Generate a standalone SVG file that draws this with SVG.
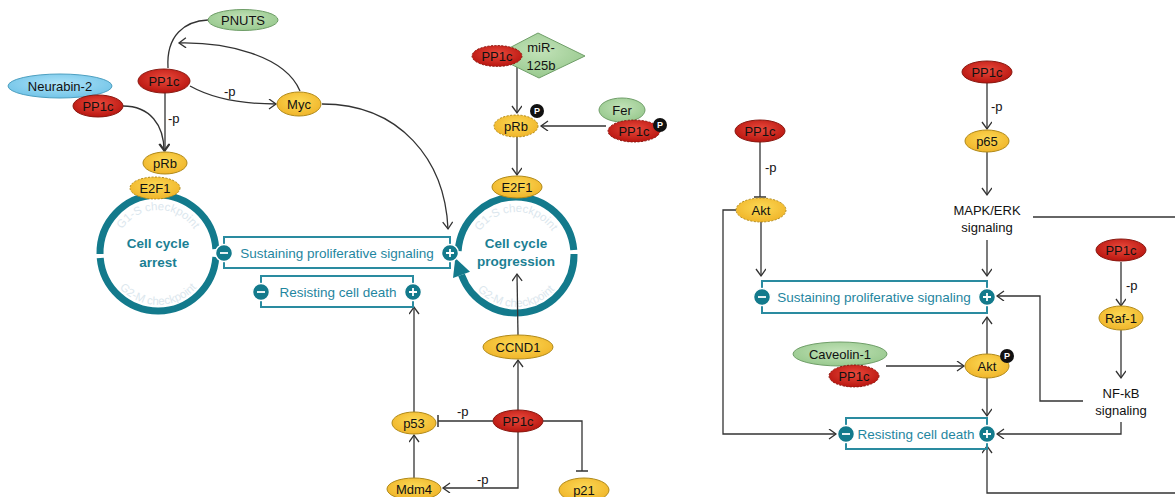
<svg xmlns="http://www.w3.org/2000/svg" width="1175" height="497" viewBox="0 0 1175 497">
<style>
text{font-family:"Liberation Sans",Arial,sans-serif;}
.lbl{font-size:13px;fill:#111;text-anchor:middle;}
.el{font-size:13px;fill:#111;}
.red{fill:url(#gRed);stroke:#8a1a12;stroke-width:1;}
.yel{fill:url(#gYel);stroke:#b08a1a;stroke-width:1;}
.grn{fill:url(#gGrn);stroke:#6f9e68;stroke-width:1;}
.blu{fill:url(#gBlu);stroke:#4c9fc0;stroke-width:1;}
.dash{stroke-dasharray:2 1.5;}
.ring{fill:none;stroke:#137a8c;stroke-width:7;}
.box{fill:none;stroke:#2a8ba0;stroke-width:2;}
.boxt{font-size:13.5px;fill:#1f86a0;text-anchor:middle;}
.badge{fill:#137a8c;stroke:#fff;stroke-width:1.5;}
.sign{stroke:#fff;stroke-width:1.8;fill:none;}
.cc{font-size:13.5px;font-weight:bold;fill:#1b7f94;text-anchor:middle;}
.chk{font-size:11.5px;fill:#dce7ee;}
.ln{fill:none;stroke:#333;stroke-width:1.3;}
.arr{marker-end:url(#arrow);}
.tee{marker-end:url(#tbar);}
.pb{fill:#111;}
.pt{font-size:9px;font-weight:bold;fill:#fff;text-anchor:middle;}
</style>
<defs>
<radialGradient id="gRed" cx="50%" cy="40%" r="60%"><stop offset="0" stop-color="#ea4a3c"/><stop offset="1" stop-color="#b8150f"/></radialGradient>
<radialGradient id="gYel" cx="50%" cy="40%" r="60%"><stop offset="0" stop-color="#fcd955"/><stop offset="1" stop-color="#f0b52a"/></radialGradient>
<radialGradient id="gGrn" cx="50%" cy="40%" r="60%"><stop offset="0" stop-color="#c2e2b8"/><stop offset="1" stop-color="#98c98e"/></radialGradient>
<radialGradient id="gBlu" cx="50%" cy="40%" r="60%"><stop offset="0" stop-color="#aee3f8"/><stop offset="1" stop-color="#72c4e8"/></radialGradient>
<marker id="arrow" markerUnits="userSpaceOnUse" markerWidth="12" markerHeight="12" refX="8" refY="5" orient="auto"><path d="M1,0 L8,5 L1,10" fill="none" stroke="#333" stroke-width="1.3"/></marker>
<marker id="tbar" markerUnits="userSpaceOnUse" markerWidth="4" markerHeight="14" refX="1" refY="6" orient="auto"><path d="M1,0 L1,12" fill="none" stroke="#333" stroke-width="1.5"/></marker>
<path id="arcL1" d="M115,253 A43,43 0 0 1 201,253"/>
<path id="arcL2" d="M106,253 A52,52 0 0 0 210,253"/>
<path id="arcR1" d="M473,255 A43,43 0 0 1 559,255"/>
<path id="arcR2" d="M464,255 A52,52 0 0 0 568,255"/>
</defs>
<rect width="1175" height="497" fill="#fff"/>

<g id="cycle-arrest">
<path class="ring" d="M100.01,254.01 A58,58 0 0 1 215.86,248.95"/>
<path class="ring" d="M215.86,257.05 A58,58 0 0 1 100.22,258.06"/>
<text class="chk"><textPath href="#arcL1" startOffset="50%" text-anchor="middle">G1-S checkpoint</textPath></text>
<text class="chk"><textPath href="#arcL2" startOffset="50%" text-anchor="middle">G2-M checkpoint</textPath></text>
<text class="cc" x="158" y="248">Cell cycle</text>
<text class="cc" x="158" y="267">arrest</text>
</g>
<g id="cycle-progression">
<path class="ring" d="M458.14,250.95 A58,58 0 0 1 573.78,249.94"/>
<path class="ring" d="M573.99,253.99 A58,58 0 0 1 461.5,274.84"/>
<polygon points="455.3,257.9 453.0,277.9 470.0,271.7" fill="#137a8c"/>
<text class="chk"><textPath href="#arcR1" startOffset="50%" text-anchor="middle">G1-S checkpoint</textPath></text>
<text class="chk"><textPath href="#arcR2" startOffset="50%" text-anchor="middle">G2-M checkpoint</textPath></text>
<text class="cc" x="516" y="248">Cell cycle</text>
<text class="cc" x="516" y="266">progression</text>
</g>

<g id="connectors">
<path class="ln" d="M168,68 C166,35 185,21 208,20"/>
<path class="ln arr" d="M300,91 C285,55 225,42 179,43"/>
<path class="ln arr" d="M190,86 C215,100 248,104 276,104"/>
<path class="ln arr" d="M165,92 L165,151"/>
<path class="ln arr" d="M123,106 C150,106 164,125 164,151"/>
<path class="ln arr" d="M322,104 C400,104 445,160 448,229"/>
<path class="ln arr" d="M517,66 L517,113"/>
<path class="ln arr" d="M606,126 L541,126"/>
<path class="ln arr" d="M517,137 L517,175"/>
<path class="ln arr" d="M518,335 L517,274"/>
<path class="ln arr" d="M518,410 L518,360"/>
<path class="ln tee" d="M493,421 L438,421"/>
<path class="ln arr" d="M414,412 L414,307"/>
<path class="ln arr" d="M414,478 L414,435"/>
<path class="ln arr" d="M518,432 L518,488 L443,488"/>
<path class="ln tee" d="M543,421 L582,421 L582,471"/>
<path class="ln arr" d="M987,83 L987,129"/>
<path class="ln arr" d="M987,152 L987,195"/>
<path class="ln" d="M1033,217 L1175,217"/>
<path class="ln arr" d="M987,240 L987,276"/>
<path class="ln tee" d="M760,142 L760,197"/>
<path class="ln arr" d="M761,222 L761,276"/>
<path class="ln arr" d="M736,210 L723,210 L723,434 L836,434"/>
<path class="ln arr" d="M1121,262 L1121,306"/>
<path class="ln arr" d="M1121,330 L1121,378"/>
<path class="ln arr" d="M1083,401 L1040,401 L1040,296 L997,296"/>
<path class="ln arr" d="M1121,422 L1121,434 L997,434"/>
<path class="ln arr" d="M1175,493 L987,493 L987,446"/>
<path class="ln arr" d="M886,366 L964,366"/>
<path class="ln arr" d="M987,354 L987,317"/>
<path class="ln arr" d="M987,378 L987,416"/>
<text class="el" x="224" y="96">-p</text>
<text class="el" x="168" y="123">-p</text>
<text class="el" x="457" y="416">-p</text>
<text class="el" x="477" y="484">-p</text>
<text class="el" x="991" y="111">-p</text>
<text class="el" x="765" y="172">-p</text>
<text class="el" x="1126" y="290">-p</text>
</g>

<g id="box-sust-left">
<rect class="box" x="224" y="237" width="226" height="31"/>
<text class="boxt" x="337" y="258">Sustaining proliferative signaling</text>
<circle class="badge" cx="224" cy="253" r="8.5"/><path class="sign" d="M220,253 H228"/>
<circle class="badge" cx="450" cy="253" r="8.5"/><path class="sign" d="M446,253 H454 M450,249 V257"/>
</g>
<g id="box-resist-left">
<rect class="box" x="261" y="276" width="152" height="31"/>
<text class="boxt" x="338" y="297">Resisting cell death</text>
<circle class="badge" cx="261" cy="292" r="8.5"/><path class="sign" d="M257,292 H265"/>
<circle class="badge" cx="413" cy="292" r="8.5"/><path class="sign" d="M409,292 H417 M413,288 V296"/>
</g>
<g id="box-sust-right">
<rect class="box" x="762" y="281" width="225" height="32"/>
<text class="boxt" x="874" y="302">Sustaining proliferative signaling</text>
<circle class="badge" cx="762" cy="297" r="8.5"/><path class="sign" d="M758,297 H766"/>
<circle class="badge" cx="987" cy="297" r="8.5"/><path class="sign" d="M983,297 H991 M987,293 V301"/>
</g>
<g id="box-resist-right">
<rect class="box" x="846" y="418" width="141" height="31"/>
<text class="boxt" x="916" y="439">Resisting cell death</text>
<circle class="badge" cx="846" cy="434" r="8.5"/><path class="sign" d="M842,434 H850"/>
<circle class="badge" cx="987" cy="434" r="8.5"/><path class="sign" d="M983,434 H991 M987,430 V438"/>
</g>

<g id="pnuts"><ellipse class="grn" cx="243" cy="20" rx="35" ry="10.5"/><text class="lbl" x="243" y="24.5">PNUTS</text></g>
<g id="pp1c-top"><ellipse class="red" cx="164" cy="81" rx="26" ry="12"/><text class="lbl" x="164" y="85.5">PP1c</text></g>
<g id="neurabin2"><ellipse class="blu" cx="60" cy="86" rx="52" ry="12"/><text class="lbl" x="60" y="90.5">Neurabin-2</text></g>
<g id="pp1c-neurabin"><ellipse class="red" cx="98" cy="106" rx="25" ry="11"/><text class="lbl" x="98" y="110.5">PP1c</text></g>
<g id="myc"><ellipse class="yel" cx="299" cy="104" rx="22" ry="12"/><text class="lbl" x="299" y="108.5">Myc</text></g>
<g id="prb-left"><ellipse class="yel" cx="165" cy="163" rx="22" ry="11"/><text class="lbl" x="165" y="167.5">pRb</text></g>
<g id="e2f1-left"><ellipse class="yel dash" cx="155" cy="188" rx="25" ry="11"/><text class="lbl" x="155" y="192.5">E2F1</text></g>

<g id="mir125b"><polygon class="grn" points="494,56 538,33 585,56 539,78"/><text class="lbl" x="541" y="52">miR-</text><text class="lbl" x="541" y="70">125b</text></g>
<g id="pp1c-mir"><ellipse class="red dash" cx="497" cy="56" rx="25" ry="10.5"/><text class="lbl" x="497" y="60.5">PP1c</text></g>
<g id="prb-mid"><ellipse class="yel dash" cx="516" cy="126" rx="22" ry="11"/><text class="lbl" x="516" y="130.5">pRb</text><circle class="pb" cx="537" cy="111" r="7"/><text class="pt" x="537" y="114.2">P</text></g>
<g id="fer"><ellipse class="grn" cx="622" cy="110" rx="23" ry="12"/><text class="lbl" x="622" y="114.5">Fer</text></g>
<g id="pp1c-fer"><ellipse class="red dash" cx="634" cy="131" rx="26" ry="11"/><text class="lbl" x="634" y="135.5">PP1c</text><circle class="pb" cx="660" cy="125" r="7"/><text class="pt" x="660" y="128.2">P</text></g>
<g id="e2f1-right"><ellipse class="yel" cx="517" cy="187" rx="25" ry="11"/><text class="lbl" x="517" y="191.5">E2F1</text></g>

<g id="ccnd1"><ellipse class="yel" cx="518" cy="347" rx="35" ry="12"/><text class="lbl" x="518" y="351.5">CCND1</text></g>
<g id="pp1c-bottom"><ellipse class="red" cx="518" cy="421" rx="25" ry="11"/><text class="lbl" x="518" y="425.5">PP1c</text></g>
<g id="p53"><ellipse class="yel" cx="414" cy="423" rx="22" ry="11"/><text class="lbl" x="414" y="427.5">p53</text></g>
<g id="mdm4"><ellipse class="yel" cx="414" cy="489" rx="27" ry="11"/><text class="lbl" x="414" y="493.5">Mdm4</text></g>
<g id="p21"><ellipse class="yel" cx="584" cy="490" rx="25" ry="12"/><text class="lbl" x="584" y="494.5">p21</text></g>

<g id="pp1c-p65"><ellipse class="red" cx="987" cy="72" rx="25" ry="11"/><text class="lbl" x="987" y="76.5">PP1c</text></g>
<g id="p65"><ellipse class="yel" cx="987" cy="141" rx="22" ry="11"/><text class="lbl" x="987" y="145.5">p65</text></g>
<g id="mapk-erk"><text class="lbl" x="987" y="215">MAPK/ERK</text><text class="lbl" x="987" y="232">signaling</text></g>
<g id="pp1c-akt"><ellipse class="red" cx="760" cy="131" rx="25" ry="11"/><text class="lbl" x="760" y="135.5">PP1c</text></g>
<g id="akt-left"><ellipse class="yel dash" cx="761" cy="210" rx="25" ry="12"/><text class="lbl" x="761" y="214.5">Akt</text></g>
<g id="pp1c-raf"><ellipse class="red" cx="1121" cy="250" rx="25" ry="11"/><text class="lbl" x="1121" y="254.5">PP1c</text></g>
<g id="raf1"><ellipse class="yel" cx="1121" cy="318" rx="22" ry="12"/><text class="lbl" x="1121" y="322.5">Raf-1</text></g>
<g id="nfkb"><text class="lbl" x="1121" y="398">NF-kB</text><text class="lbl" x="1121" y="415">signaling</text></g>
<g id="caveolin1"><ellipse class="grn" cx="840" cy="354" rx="47" ry="12"/><text class="lbl" x="840" y="358.5">Caveolin-1</text></g>
<g id="pp1c-cav"><ellipse class="red dash" cx="854" cy="376" rx="25" ry="11"/><text class="lbl" x="854" y="380.5">PP1c</text></g>
<g id="akt-p"><ellipse class="yel" cx="987" cy="366" rx="22" ry="12"/><text class="lbl" x="987" y="370.5">Akt</text><circle class="pb" cx="1007" cy="356" r="7"/><text class="pt" x="1007" y="359.2">P</text></g>
</svg>
